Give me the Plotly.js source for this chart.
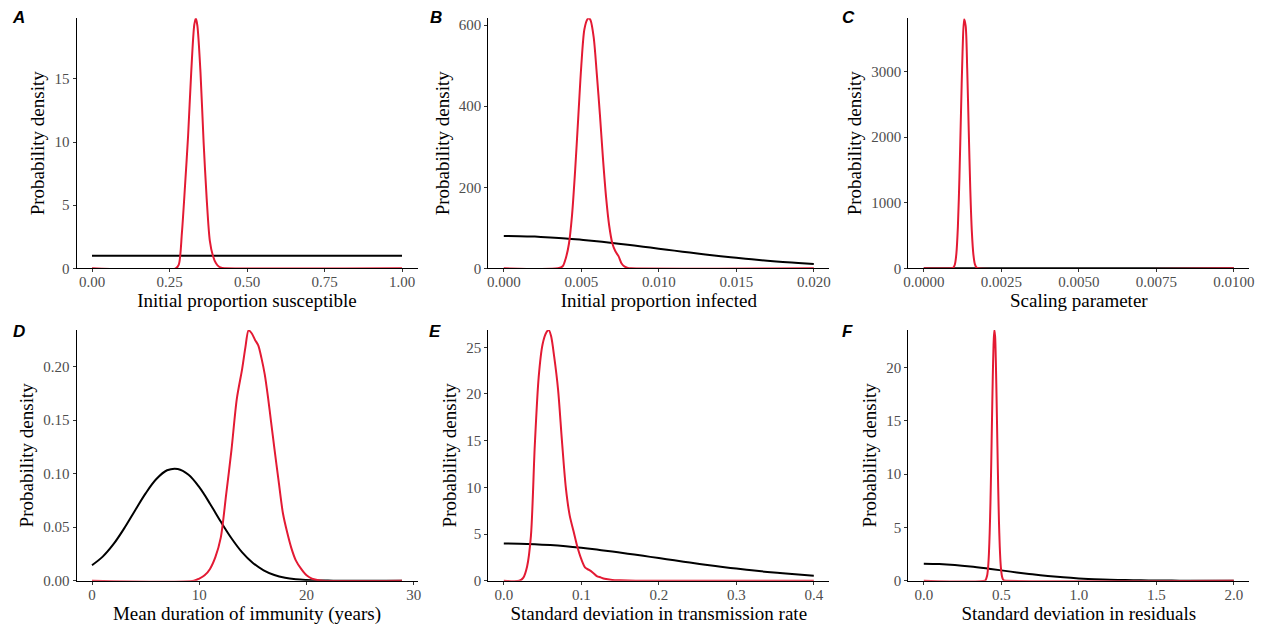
<!DOCTYPE html>
<html>
<head>
<meta charset="utf-8">
<script src="https://cdn.plot.ly/plotly-3.0.1.min.js"></script>
<style>html,body{margin:0;padding:0;background:#fff;}#chart{width:1265px;height:630px;}</style>
</head>
<body>
<div id="chart"></div>
<script>
// ---------- Data ----------
// Panel A: Initial proportion susceptible
const aPostX = [0, 0.27, 0.28, 0.29, 0.30, 0.31, 0.32, 0.33, 0.335, 0.34, 0.35, 0.36, 0.37, 0.38, 0.39, 0.40, 0.41, 0.42, 0.43, 1.0];
const aPostY = [0, 0, 0.3, 2.8, 6.5, 10.5, 15.5, 19.3, 19.8, 19.2, 15.5, 10.0, 5.5, 2.2, 1.0, 0.4, 0.12, 0.02, 0, 0];
const aPriorX = [0, 0.25, 0.5, 0.75, 1.0];
const aPriorY = [1, 1, 1, 1, 1];

// Panel B: Initial proportion infected
const bPostX = [0, 0.0035, 0.0038, 0.0040, 0.0042, 0.0044, 0.0046, 0.0048, 0.0050, 0.0052, 0.0054, 0.0055, 0.0056, 0.0058, 0.0060, 0.0062, 0.0064, 0.0066, 0.0068, 0.0070, 0.0072, 0.0074, 0.0076, 0.0078, 0.0080, 0.0082, 0.020];
const bPostY = [0, 0, 5, 25, 60, 130, 240, 370, 500, 590, 615, 617, 612, 570, 480, 380, 270, 175, 105, 62, 42, 30, 12, 4, 1, 0, 0];
const bPriorX = [0, 0.001, 0.002, 0.003, 0.004, 0.005, 0.006, 0.007, 0.008, 0.009, 0.010, 0.011, 0.012, 0.013, 0.014, 0.015, 0.016, 0.017, 0.018, 0.019, 0.020];
const bPriorY = [79.8, 79.4, 78.2, 76.3, 73.8, 70.4, 66.7, 62.5, 58.0, 53.3, 48.4, 43.6, 38.9, 34.3, 30.0, 25.9, 22.2, 18.8, 15.8, 13.1, 10.8];

// Panel C: Scaling parameter
const cPostX = [0, 0.00090, 0.00095, 0.00100, 0.00105, 0.00110, 0.00115, 0.00120, 0.00125, 0.00130, 0.00135, 0.00140, 0.00145, 0.00150, 0.00155, 0.00160, 0.00165, 0.00170, 0.00175, 0.0100];
const cPostY = [0, 0, 10, 55, 220, 640, 1400, 2380, 3300, 3800, 3700, 3050, 2100, 1200, 560, 210, 60, 12, 0, 0];
const cPriorX = [0, 0.0025, 0.005, 0.0075, 0.010];
const cPriorY = [1, 1, 1, 1, 1];

// Panel D: Mean duration of immunity (years)
const dPostX = [0, 9.5, 10.0, 10.5, 11.0, 11.5, 12.0, 12.5, 13.0, 13.5, 14.0, 14.3, 14.6, 14.9, 15.2, 15.5, 15.8, 16.1, 16.4, 16.7, 17.0, 17.4, 17.8, 18.2, 18.6, 19.0, 19.5, 20.0, 20.5, 21.0, 21.5, 28.9];
const dPostY = [0, 0, 0.002, 0.005, 0.011, 0.022, 0.040, 0.080, 0.122, 0.170, 0.198, 0.218, 0.234, 0.231, 0.225, 0.220, 0.208, 0.193, 0.172, 0.148, 0.124, 0.093, 0.063, 0.045, 0.030, 0.019, 0.011, 0.005, 0.002, 0.0007, 0, 0];
const dPriorX = [0, 1, 2, 3, 4, 5, 6, 7, 8, 9, 10, 11, 12, 13, 14, 15, 16, 17, 18, 19, 20, 21, 22, 23, 24, 25, 26, 27, 28, 28.9];
const dPriorY = [0.0145, 0.0225, 0.0341, 0.0489, 0.0654, 0.0816, 0.0950, 0.1032, 0.1044, 0.0990, 0.0874, 0.0720, 0.0553, 0.0397, 0.0265, 0.0166, 0.0097, 0.0053, 0.0027, 0.0013, 0.0006, 0.0002, 0.0001, 0, 0, 0, 0, 0, 0, 0];

// Panel E: Standard deviation in transmission rate
const ePostX = [0, 0.020, 0.025, 0.030, 0.035, 0.040, 0.045, 0.050, 0.055, 0.058, 0.061, 0.065, 0.070, 0.075, 0.080, 0.085, 0.090, 0.095, 0.100, 0.105, 0.110, 0.115, 0.120, 0.125, 0.130, 0.140, 0.150, 0.170, 0.4];
const ePostY = [0, 0, 0.3, 1.5, 4.8, 14.5, 21.8, 25.3, 26.6, 26.85, 26.2, 24.0, 20.5, 15.0, 10.0, 7.0, 5.3, 3.6, 2.3, 1.4, 1.15, 0.85, 0.5, 0.35, 0.2, 0.08, 0.04, 0, 0];
const ePriorX = [0, 0.02, 0.04, 0.06, 0.08, 0.10, 0.12, 0.14, 0.16, 0.18, 0.20, 0.22, 0.24, 0.26, 0.28, 0.30, 0.32, 0.34, 0.36, 0.38, 0.40];
const ePriorY = [3.989, 3.969, 3.910, 3.813, 3.683, 3.520, 3.332, 3.122, 2.897, 2.661, 2.420, 2.178, 1.942, 1.714, 1.497, 1.295, 1.109, 0.940, 0.789, 0.656, 0.540];

// Panel F: Standard deviation in residuals
const fPostX = [0, 0.395, 0.40, 0.405, 0.41, 0.415, 0.42, 0.425, 0.43, 0.435, 0.44, 0.445, 0.45, 0.455, 0.46, 0.465, 0.47, 0.475, 0.48, 0.485, 0.49, 0.495, 0.50, 0.505, 0.51, 0.515, 0.52, 2.0];
const fPostY = [0, 0, 0.10, 0.3, 0.60, 1.28, 2.5, 4.5, 7.3, 10.96, 15.1, 19.1, 22.1, 23.5, 22.9, 20.4, 16.7, 12.6, 8.7, 5.5, 3.2, 1.7, 0.82, 0.37, 0.15, 0.05, 0.02, 0];
const fPriorX = [0, 0.1, 0.2, 0.3, 0.4, 0.5, 0.6, 0.7, 0.8, 0.9, 1.0, 1.1, 1.2, 1.3, 1.4, 1.5, 1.6, 1.7, 1.8, 1.9, 2.0];
const fPriorY = [1.596, 1.564, 1.473, 1.333, 1.159, 0.968, 0.777, 0.599, 0.444, 0.316, 0.216, 0.142, 0.090, 0.054, 0.032, 0.018, 0.0095, 0.0049, 0.0024, 0.0012, 0.0005];

// Labels
const panelLetters = ['A', 'B', 'C', 'D', 'E', 'F'];
const xTitles = ['Initial proportion susceptible', 'Initial proportion infected', 'Scaling parameter',
                 'Mean duration of immunity (years)', 'Standard deviation in transmission rate', 'Standard deviation in residuals'];
const yTitle = 'Probability density';

// ---------- Build ----------
const RED = '#E31A33';
const serif = 'Liberation Serif, "Times New Roman", serif';
const panels = [
  {post: [aPostX, aPostY], prior: [aPriorX, aPriorY], xr: [-0.05, 1.05], yr: [0, 19.8], xt: {tick0: 0, dtick: 0.25, tickformat: '.2f'}, yt: {tick0: 0, dtick: 5}},
  {post: [bPostX, bPostY], prior: [bPriorX, bPriorY], xr: [-0.001, 0.021], yr: [0, 617], xt: {tick0: 0, dtick: 0.005, tickformat: '.3f'}, yt: {tick0: 0, dtick: 200}},
  {post: [cPostX, cPostY], prior: [cPriorX, cPriorY], xr: [-0.0005, 0.0105], yr: [0, 3815], xt: {tick0: 0, dtick: 0.0025, tickformat: '.4f'}, yt: {tick0: 0, dtick: 1000, tickformat: 'd'}},
  {post: [dPostX, dPostY], prior: [dPriorX, dPriorY], xr: [-1.445, 30.345], yr: [0, 0.2343], xt: {tick0: 0, dtick: 10}, yt: {tick0: 0, dtick: 0.05, tickformat: '.2f'}},
  {post: [ePostX, ePostY], prior: [ePriorX, ePriorY], xr: [-0.02, 0.42], yr: [0, 26.85], xt: {tick0: 0, dtick: 0.1, tickformat: '.1f'}, yt: {tick0: 0, dtick: 5}},
  {post: [fPostX, fPostY], prior: [fPriorX, fPriorY], xr: [-0.1, 2.1], yr: [0, 23.5], xt: {tick0: 0, dtick: 0.5, tickformat: '.1f'}, yt: {tick0: 0, dtick: 5}}
];

const W = 1265, H = 630;
const colPx = [[76.5, 417.5], [488.3, 829.3], [908.3, 1249.3]];
const rowPx = [[18.3, 268.3], [330, 580.7]];
const labelPx = [[18, 17], [436, 17], [848, 17], [19, 331], [435, 331], [847, 331]];

const traces = [];
const layout = {
  width: W, height: H,
  margin: {l: 0, r: 0, t: 0, b: 0},
  paper_bgcolor: '#fff', plot_bgcolor: '#fff',
  showlegend: false,
  font: {family: serif, color: '#000'},
  annotations: []
};

panels.forEach((p, i) => {
  const n = i + 1;
  const xa = n === 1 ? 'x' : 'x' + n;
  const ya = n === 1 ? 'y' : 'y' + n;
  traces.push({x: p.prior[0], y: p.prior[1], xaxis: xa, yaxis: ya, mode: 'lines', type: 'scatter',
               line: {color: '#000', width: 2, shape: 'spline', smoothing: 1}, hoverinfo: 'skip'});
  traces.push({x: p.post[0], y: p.post[1], xaxis: xa, yaxis: ya, mode: 'lines', type: 'scatter',
               line: {color: RED, width: 2, shape: 'spline', smoothing: 0.8}, hoverinfo: 'skip'});
  const c = colPx[i % 3], r = rowPx[Math.floor(i / 3)];
  const common = {
    showgrid: false, zeroline: false, showline: true, linecolor: '#000', linewidth: 1,
    ticks: 'outside', ticklen: 3, tickwidth: 1, tickcolor: '#333',
    tickfont: {family: serif, size: 15, color: '#4D4D4D'},
    fixedrange: true, automargin: false
  };
  layout['xaxis' + (n === 1 ? '' : n)] = Object.assign({}, common, p.xt, {
    domain: [c[0] / W, c[1] / W], range: p.xr, anchor: ya, tickmode: 'linear',
    ticklabelstandoff: -3,
    title: {text: xTitles[i], font: {family: serif, size: 19, color: '#000'}, standoff: 0}
  });
  layout['yaxis' + (n === 1 ? '' : n)] = Object.assign({}, common, p.yt, {
    domain: [1 - r[1] / H, 1 - r[0] / H], range: p.yr, anchor: xa, tickmode: 'linear',
    title: {text: yTitle, font: {family: serif, size: 19, color: '#000'}, standoff: 4}
  });
  layout.annotations.push({
    xref: 'paper', yref: 'paper', x: labelPx[i][0] / W, y: 1 - labelPx[i][1] / H,
    xanchor: 'center', yanchor: 'middle', showarrow: false,
    text: '<b><i>' + panelLetters[i] + '</i></b>',
    font: {family: 'Liberation Sans, Arial, sans-serif', size: 17, color: '#000'}
  });
});

Plotly.newPlot('chart', traces, layout, {displayModeBar: false, staticPlot: true});
</script>
</body>
</html>
